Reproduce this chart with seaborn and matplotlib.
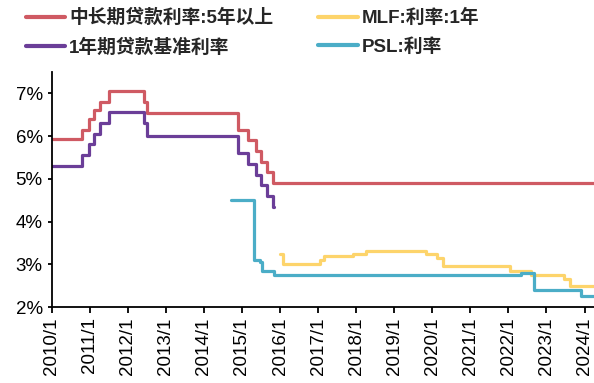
import matplotlib
matplotlib.use('Agg')
import matplotlib.pyplot as plt
import matplotlib.dates as mdates
from matplotlib.ticker import FuncFormatter, FixedLocator
import seaborn as sns
import pandas as pd

# 数据（阶梯变动日期 + 利率）
end_date = '2024-03-31'

long_dates = ['2010-01-01', '2010-10-20', '2010-12-26', '2011-02-09', '2011-04-06', '2011-07-07',
              '2012-06-08', '2012-07-06', '2014-11-22', '2015-03-01', '2015-05-11', '2015-06-28',
              '2015-08-26', '2015-10-24', end_date]
long_rates = [5.94, 6.14, 6.40, 6.60, 6.80, 7.05, 6.80, 6.55, 6.15, 5.90, 5.65, 5.40, 5.15, 4.90, 4.90]

one_dates = ['2010-01-01', '2010-10-20', '2010-12-26', '2011-02-09', '2011-04-06', '2011-07-07',
             '2012-06-08', '2012-07-06', '2014-11-22', '2015-03-01', '2015-05-11', '2015-06-28',
             '2015-08-26', '2015-10-24', '2015-10-31']
one_rates = [5.31, 5.56, 5.81, 6.06, 6.31, 6.56, 6.31, 6.00, 5.60, 5.35, 5.10, 4.85, 4.60, 4.35, 4.35]

mlf_dates = ['2016-01-01', '2016-02-01', '2017-01-15', '2017-03-01', '2017-12-01', '2018-04-01',
             '2019-11-01', '2020-02-15', '2020-04-15', '2022-01-15', '2022-08-01', '2023-06-15',
             '2023-08-15', end_date]
mlf_rates = [3.25, 3.00, 3.10, 3.20, 3.25, 3.30, 3.25, 3.15, 2.95, 2.85, 2.75, 2.65, 2.50, 2.50]

psl_dates = ['2014-09-15', '2015-05-01', '2015-06-25', '2015-07-10', '2015-11-01', '2022-05-01',
             '2022-09-01', '2023-12-01', end_date]
psl_rates = [4.50, 3.10, 3.05, 2.85, 2.75, 2.80, 2.40, 2.25, 2.25]

series = [
    ('中长期贷款利率:5年以上', long_dates, long_rates, '#CF5A63'),
    ('1年期贷款基准利率', one_dates, one_rates, '#6B3E98'),
    ('MLF:利率:1年', mlf_dates, mlf_rates, '#FDD46B'),
    ('PSL:利率', psl_dates, psl_rates, '#4BADC7'),
]

sns.set_style('ticks')
plt.rcParams['font.family'] = ['Liberation Sans', 'Noto Sans CJK SC']

fig = plt.figure(figsize=(5.94, 3.83), dpi=100)
ax = fig.add_axes([51.7 / 594, 1 - 307 / 383, 1 - 51.7 / 594, (307 - 72) / 383])

for name, d, r, c in series:
    df = pd.DataFrame({'date': pd.to_datetime(d), 'rate': r})
    sns.lineplot(data=df, x='date', y='rate', ax=ax, color=c, linewidth=2.3,
                 drawstyle='steps-post', label=name)

ax.set_xlim(pd.Timestamp('2010-01-01'), pd.Timestamp('2024-04-01'))
ax.set_ylim(2, 7.5)
ax.yaxis.set_major_locator(FixedLocator([2, 3, 4, 5, 6, 7]))
ax.yaxis.set_major_formatter(FuncFormatter(lambda v, p: f'{v:.0f}%'))
ax.xaxis.set_major_locator(mdates.YearLocator())
ax.xaxis.set_major_formatter(FuncFormatter(lambda v, p: f'{mdates.num2date(v).year}/1'))
plt.setp(ax.get_xticklabels(), rotation=90)
ax.tick_params(axis='both', labelsize=13.5, colors='black', width=1.3, length=4, direction='out')
ax.tick_params(axis='y', length=3)
ax.set_xlabel('')
ax.set_ylabel('')
for s in ['top', 'right']:
    ax.spines[s].set_visible(False)
for s in ['left', 'bottom']:
    ax.spines[s].set_color('black')
    ax.spines[s].set_linewidth(1.3)

handles, labels = ax.get_legend_handles_labels()
leg = ax.legend(handles, labels, ncol=2, loc='upper left', bbox_to_anchor=(26 / 594, 1 - 9 / 383),
                bbox_transform=fig.transFigure, frameon=False, handlelength=2.1, handletextpad=0.2,
                columnspacing=2.4, labelspacing=0.58, borderpad=0, borderaxespad=0,
                prop={'size': 13.5, 'weight': 'bold'})
for line in leg.get_lines():
    line.set_linewidth(3)

fig.savefig('out.png', dpi=100)
